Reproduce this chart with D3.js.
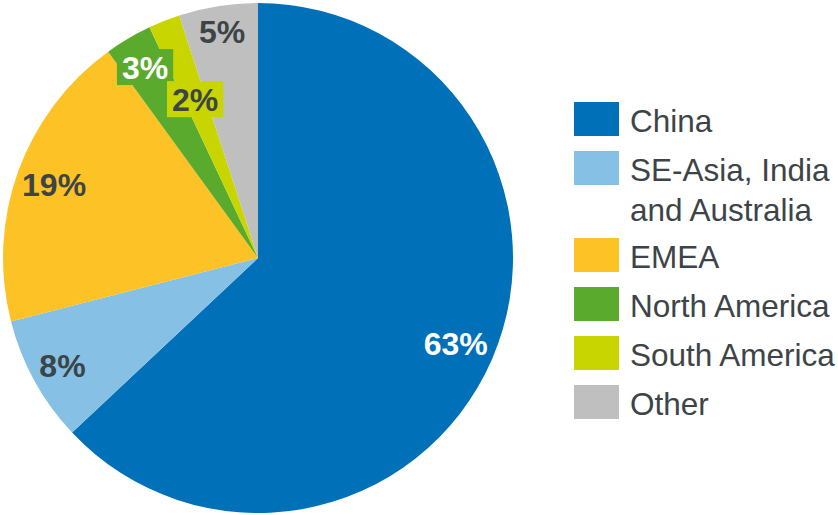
<!DOCTYPE html>
<html>
<head>
<meta charset="utf-8">
<script src="https://cdn.jsdelivr.net/npm/d3@7"></script>
<style>
  html, body { margin: 0; padding: 0; background: #ffffff; }
  svg { display: block; font-family: "Liberation Sans", Arial, Helvetica, sans-serif; }
</style>
</head>
<body>
<svg id="chart" width="838" height="515"></svg>
<script>
// Share of sales by region (%)
const regions = ["China", "SE-Asia, India and Australia", "EMEA", "North America", "South America", "Other"];
const shares = [63, 8, 19, 3, 2, 5];
const legendLines = [["China"], ["SE-Asia, India", "and Australia"], ["EMEA"], ["North America"], ["South America"], ["Other"]];

// Styling
const colors = ["#0070b9", "#86c1e5", "#fdc225", "#5aab2d", "#c8d500", "#bfbfbf"];
const labelColors = ["#ffffff", "#3d4448", "#3d4448", "#ffffff", "#3d4448", "#3d4448"];
const labelBoxed = [false, false, false, true, true, false];
const labelRadiusFactor = [0.845, 0.875, 0.85, 0.87, 0.67, 0.9];

const svg = d3.select("#chart");
const cx = 258, cy = 258, R = 255;

const data = regions.map((r, i) => ({ region: r, value: shares[i], i }));

const pie = d3.pie().sort(null).value(d => d.value).startAngle(0).endAngle(2 * Math.PI);
const arcs = pie(data);
const arc = d3.arc().innerRadius(0).outerRadius(R);

const g = svg.append("g").attr("transform", `translate(${cx},${cy})`);

g.selectAll("path.slice")
  .data(arcs)
  .join("path")
  .attr("class", "slice")
  .attr("d", arc)
  .attr("fill", d => colors[d.data.i]);

// Percentage labels
const labels = g.selectAll("g.lbl")
  .data(arcs)
  .join("g")
  .attr("class", "lbl")
  .attr("transform", d => {
    const a = (d.startAngle + d.endAngle) / 2;
    const r = R * labelRadiusFactor[d.data.i];
    return `translate(${r * Math.sin(a)},${-r * Math.cos(a)})`;
  });

labels.each(function(d) {
  const sel = d3.select(this);
  const txt = sel.append("text")
    .attr("text-anchor", "middle")
    .attr("dy", "0.36em")
    .attr("font-size", 32)
    .attr("font-weight", "bold")
    .attr("fill", labelColors[d.data.i])
    .text(d.data.value + "%");
  if (labelBoxed[d.data.i]) {
    const bb = txt.node().getBBox();
    sel.insert("rect", "text")
      .attr("x", bb.x - 5)
      .attr("y", -18)
      .attr("width", bb.width + 10)
      .attr("height", 36)
      .attr("fill", colors[d.data.i]);
  }
});

// Legend
const legend = svg.append("g").attr("transform", "translate(574,102)");
const rowTops = [];
let y = 0;
legendLines.forEach((lines, i) => {
  rowTops.push(y);
  y += 49 + (lines.length - 1) * 38;
});

const rows = legend.selectAll("g.row")
  .data(data)
  .join("g")
  .attr("class", "row")
  .attr("transform", (d, i) => `translate(0,${rowTops[i]})`);

rows.append("rect")
  .attr("width", 45)
  .attr("height", 34)
  .attr("fill", d => colors[d.i]);

rows.append("text")
  .attr("x", 56)
  .attr("y", 30)
  .attr("font-size", 31.5)
  .attr("fill", "#3d4448")
  .selectAll("tspan")
  .data(d => legendLines[d.i])
  .join("tspan")
  .attr("x", 56)
  .attr("dy", (d, k) => k === 0 ? 0 : 40)
  .text(d => d);
</script>
</body>
</html>
